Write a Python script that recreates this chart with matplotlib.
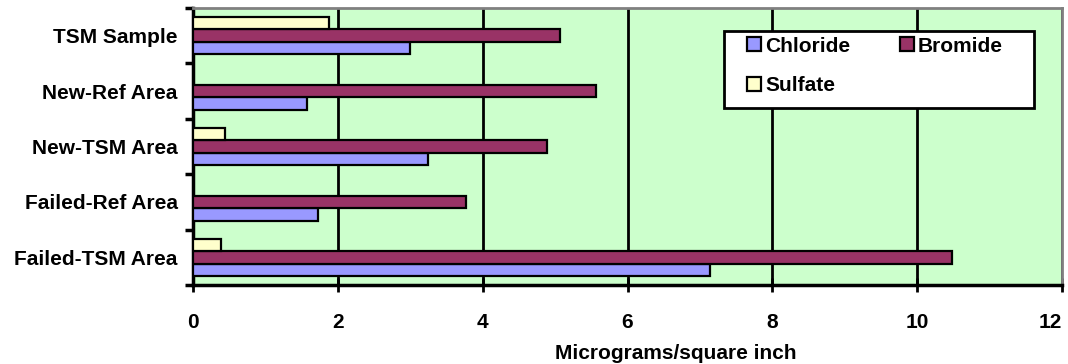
import numpy as np
import matplotlib
matplotlib.use('Agg')
import matplotlib.pyplot as plt
from matplotlib.patches import Rectangle

plt.rcParams['font.family'] = ['Liberation Sans', 'DejaVu Sans']
plt.rcParams['font.weight'] = 'bold'

# categories, bottom to top
areas = ['Failed-TSM Area', 'Failed-Ref Area', 'New-TSM Area', 'New-Ref Area', 'TSM Sample']
chloride = [7.14, 1.72, 3.24, 1.58, 3.0]
bromide = [10.48, 3.77, 4.89, 5.56, 5.07]
sulfate = [0.38, 0.0, 0.44, 0.0, 1.88]

xticks = [0, 2, 4, 6, 8, 10, 12]

fig = plt.figure(figsize=(10.68, 3.64), dpi=100)
ax = fig.add_axes([0.1807, 0.217, 0.8137, 0.761])
ax.set_facecolor('#CCFFCC')

y = np.arange(len(areas))
h = 0.225
b1 = ax.barh(y - h, chloride, height=h, color='#9999FF', edgecolor='black', linewidth=1.6, label='Chloride', zorder=3)
b2 = ax.barh(y, bromide, height=h, color='#993366', edgecolor='black', linewidth=1.6, label='Bromide', zorder=3)
b3 = ax.barh(y + h, sulfate, height=h, color='#FFFFCC', edgecolor='black', linewidth=1.6, label='Sulfate', zorder=3)

ax.set_xlim(0, 12)
ax.set_ylim(-0.5, len(areas) - 0.5)
ax.set_xticks(xticks)
labels = ax.set_xticklabels([str(v) for v in xticks], fontsize=15, fontweight='bold')
labels[-1].set_horizontalalignment('right')
ax.tick_params(axis='x', direction='inout', length=10, width=2, pad=15)
ax.grid(axis='x', color='black', linewidth=2, zorder=1)

# category boundaries get tick marks, labels sit at centers
ax.set_yticks(np.arange(len(areas) + 1) - 0.5)
ax.set_yticklabels([])
ax.tick_params(axis='y', which='major', direction='out', length=6, width=2.5)
ax.set_yticks(y, minor=True)
ax.set_yticklabels(areas, minor=True, fontsize=15, fontweight='bold')
ax.tick_params(axis='y', which='minor', length=0, pad=11)

ax.spines['left'].set_linewidth(2.5)
ax.spines['bottom'].set_linewidth(2.5)
ax.spines['top'].set_color('#808080')
ax.spines['right'].set_color('#808080')
ax.spines['top'].set_linewidth(2)
ax.spines['right'].set_linewidth(2)

ax.set_xlabel('Micrograms/square inch', fontsize=15, fontweight='bold')
ax.xaxis.set_label_coords(0.555, -0.214)

# legend box drawn separately so the padding matches
ax.add_patch(Rectangle((0.611, 0.639), 0.357, 0.278, transform=ax.transAxes,
                       facecolor='white', edgecolor='black', linewidth=2, zorder=4))
# column-major fill: Chloride, Bromide on first row, Sulfate below
leg = ax.legend([b1, b3, b2], ['Chloride', 'Sulfate', 'Bromide'], ncol=2,
                loc='upper left', bbox_to_anchor=(0.638, 0.897), borderaxespad=0,
                prop={'size': 15, 'weight': 'bold'}, frameon=False,
                handlelength=0.65, handleheight=0.65, handletextpad=0.2,
                columnspacing=2.4, borderpad=0, labelspacing=1.0)
leg.set_zorder(5)

fig.savefig('out.png', dpi=100)
